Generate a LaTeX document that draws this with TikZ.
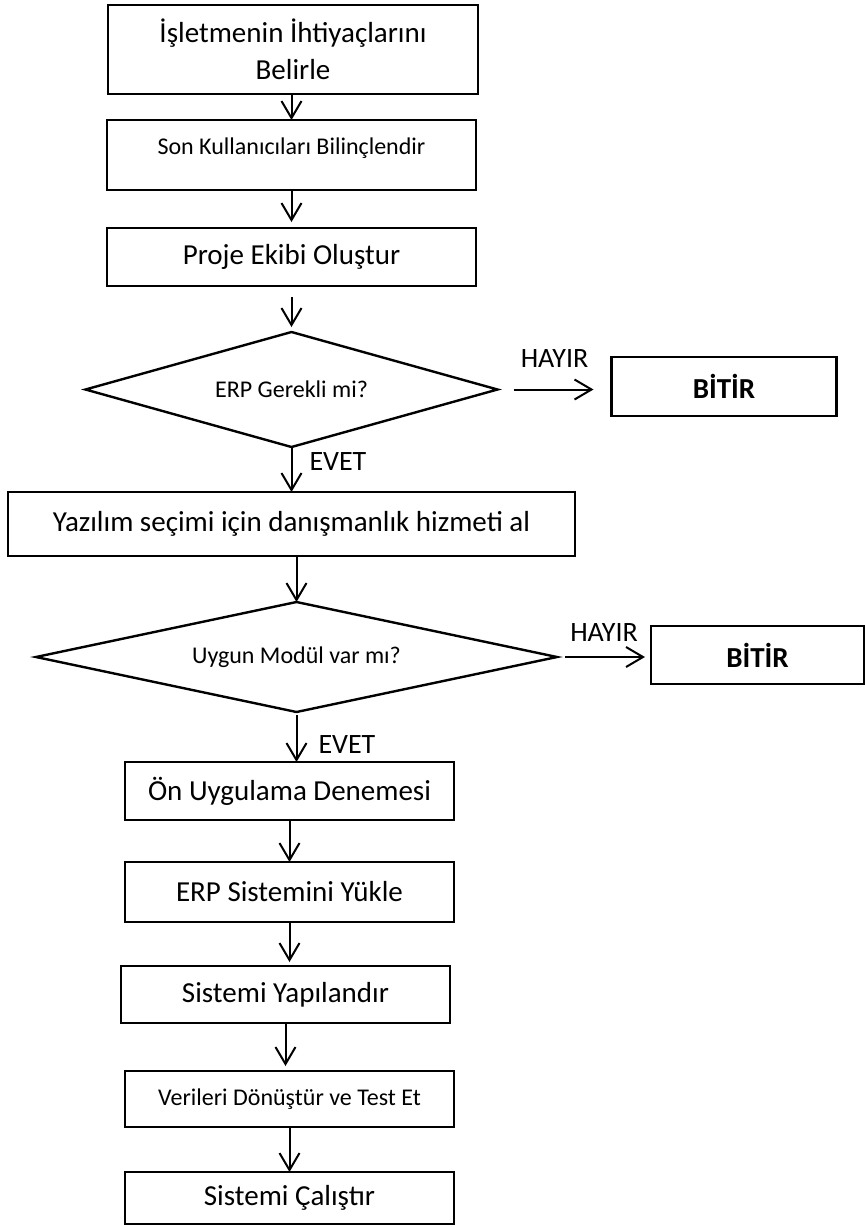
\documentclass[tikz,border=0pt]{standalone}
\usepackage{fontspec}
\setmainfont{Carlito}
\usepackage{tikz}
\usetikzlibrary{shapes.geometric, arrows.meta, positioning}
\tikzstyle{block} = [rectangle, draw, line width=2.4pt, align=center, inner sep=0pt, outer sep=0pt, minimum width=329pt, minimum height=58pt, font=\fontsize{29}{37}\selectfont]
\tikzstyle{decision} = [diamond, draw, line width=2.4pt, inner sep=0pt, outer sep=0pt, font=\fontsize{24}{30}\selectfont]
\tikzstyle{stopbox} = [rectangle, draw, line width=2.4pt, inner sep=0pt, outer sep=0pt, minimum height=58pt, font=\fontsize{29}{37}\selectfont\bfseries]
\tikzstyle{arrow} = [line width=2pt, -{Straight Barb[length=17pt, width=20pt, line width=2pt]}]
\tikzstyle{answer} = [inner sep=0pt, font=\fontsize{28}{34}\selectfont]

\begin{document}
\begin{tikzpicture}[x=1pt, y=-1pt]
    \useasboundingbox (0,0) rectangle (865,1227);
    \node (needs) [block, minimum width=370pt, minimum height=89pt] at (293,49.5) {İşletmenin İhtiyaçlarını\\Belirle};
    \node (aware) [block, minimum width=369pt, minimum height=70pt, font=\fontsize{24}{17}\selectfont, below=26pt of needs, xshift=-1.5pt] {Son Kullanıcıları Bilinçlendir\\ \mbox{}};
    \node (team) [block, minimum width=369pt, below=38pt of aware] {Proje Ekibi Oluştur};
    \node (need_erp) [decision, aspect=3.58, minimum width=412pt, minimum height=115pt, below=46pt of team] {ERP Gerekli mi?};
    \node (stop1) [stopbox, minimum width=225pt, minimum height=59pt, right=114pt of need_erp, yshift=3pt] {BİTİR};
    \node (consult) [block, minimum width=567pt, minimum height=64pt, below=45pt of need_erp] {Yazılım seçimi için danışmanlık hizmeti al};
    \node (module) [decision, aspect=4.74, minimum width=521pt, minimum height=110pt, below=46pt of consult, xshift=5pt] {Uygun Modül var mı?};
    \node (stop2) [stopbox, minimum width=213pt, right=94pt of module, yshift=2pt] {BİTİR};
    \node (pilot) [block, below=50pt of module, xshift=-7pt] {Ön Uygulama Denemesi};
    \node (install) [block, minimum height=60pt, below=42pt of pilot] {ERP Sistemini Yükle};
    \node (config) [block, minimum height=57pt, below=44pt of install, xshift=-4pt] {Sistemi Yapılandır};
    \node (convert) [block, minimum height=56pt, font=\fontsize{24}{30}\selectfont, below=48pt of config, xshift=4pt] {Verileri Dönüştür ve Test Et};
    \node (run) [block, minimum height=52pt, below=45pt of convert] {Sistemi Çalıştır};

    \draw[arrow] (needs.south -| aware.south) -- (aware.north);
    \draw[arrow, shorten >=6pt] (aware.south) -- (team.north);
    \draw[arrow, shorten <=11pt, shorten >=5pt] (team.south) -- (need_erp.north);
    \draw[arrow] (need_erp.south) -- node[answer, right=17pt, pos=0.33] {EVET} (consult.north);
    \draw[arrow, shorten <=16pt, shorten >=18pt] (need_erp.east) -- node[answer, above=21pt] {HAYIR} (need_erp.east -| stop1.west);
    \draw[arrow] (consult.south -| module.north) -- (module.north);
    \draw[arrow, shorten <=8pt, shorten >=6pt] (module.east) -- node[answer, above=15pt] {HAYIR} (module.east -| stop2.west);
    \draw[arrow, shorten <=3pt] (module.south) -- node[answer, right=21pt, pos=0.66] {EVET} (module.south |- pilot.north);
    \draw[arrow] (pilot.south) -- (install.north);
    \draw[arrow, shorten >=4pt] (install.south) -- (install.south |- config.north);
    \draw[arrow, shorten >=5pt] (config.south) -- (config.south |- convert.north);
    \draw[arrow] (convert.south) -- (run.north);
\end{tikzpicture}
\end{document}
